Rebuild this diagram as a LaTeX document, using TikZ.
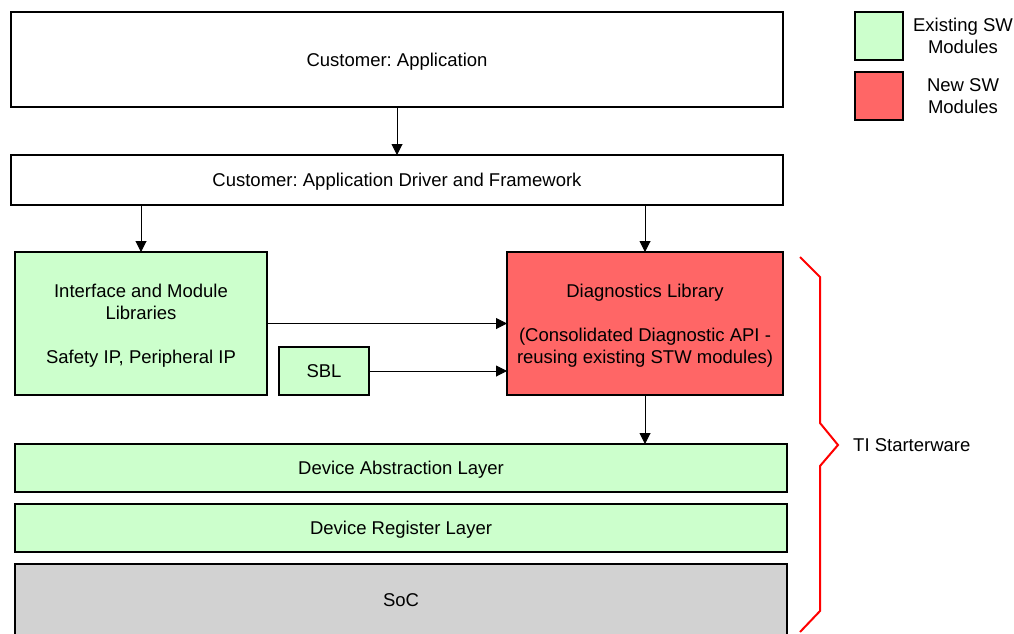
\documentclass[tikz,border=0pt]{standalone}
\usepackage{fontspec}
\setmainfont{Liberation Sans}
\frenchspacing
\usetikzlibrary{arrows.meta}
\definecolor{modgreen}{HTML}{CCFFCC}
\definecolor{modred}{HTML}{FF6666}
\definecolor{socgray}{HTML}{D2D2D2}
\begin{document}
\begin{tikzpicture}[x=1pt,y=-1pt,
  every node/.style={font=\fontsize{18.5}{22}\selectfont, align=center},
  box/.style={draw=black, line width=2pt, inner sep=0pt, outer sep=0pt, text depth=0pt},
  link/.style={line width=1pt, -{Triangle[length=11pt,width=11pt]}},
  brace/.style={draw=red, line width=2pt}
]
\useasboundingbox (0,0) rectangle (1014,633);

% application layers
\node[box, fill=white, minimum width=772pt, minimum height=95pt] (app) at (397,59.5) {Customer: Application};
\node[box, fill=white, minimum width=772pt, minimum height=50pt] (drv) at (397,180) {Customer: Application Driver and Framework};

% libraries
\node[box, fill=modgreen, minimum width=252pt, minimum height=143pt] (iface) at (141,323.5)
  {Interface and Module\\Libraries\\[22pt]Safety IP, Peripheral IP};
\node[box, fill=modgreen, minimum width=90pt, minimum height=48pt] (sbl) at (324,371) {SBL};
\node[box, fill=modred, minimum width=276pt, minimum height=143pt] (diag) at (645,323.5)
  {Diagnostics Library\\[22pt](Consolidated Diagnostic API -\\reusing existing STW modules)};

% hardware-facing layers
\node[box, fill=modgreen, minimum width=772pt, minimum height=48pt] (dal) at (401,468) {Device Abstraction Layer};
\node[box, fill=modgreen, minimum width=772pt, minimum height=48pt] (drl) at (401,528) {Device Register Layer};
\node[box, fill=socgray, minimum width=772pt, minimum height=72pt] (soc) at (401,600) {SoC};

% legend
\node[box, fill=modgreen, minimum width=48pt, minimum height=48pt] (lgreen) at (879,36) {};
\node[box, fill=modred, minimum width=48pt, minimum height=48pt] (lred) at (879,96) {};
\node (lgreentxt) at (963,36) {Existing SW\\Modules};
\node (lredtxt) at (963,96) {New SW\\Modules};

% connections
\draw[link] (app.south) -- (drv.north);
\draw[link] (drv.south -| iface.north) -- (iface.north);
\draw[link] (drv.south -| diag.north) -- (diag.north);
\draw[link] (iface.east) -- (diag.west);
\draw[link] (sbl.east) -- (sbl.east -| diag.west);
\draw[link] (diag.south) -- (diag.south |- dal.north);

% starterware brace
\coordinate (btop) at (800,257);
\coordinate (btip) at (838,445);
\coordinate (bbot) at (800,632);
\draw[brace, line join=miter] (btop) -- (820,277) -- (820,423) -- (btip) -- (820,466) -- (820,611) -- (bbot);
\node[anchor=west, inner sep=0pt, text depth=0pt] (stw) at (853,445) {TI Starterware};
\end{tikzpicture}
\end{document}
